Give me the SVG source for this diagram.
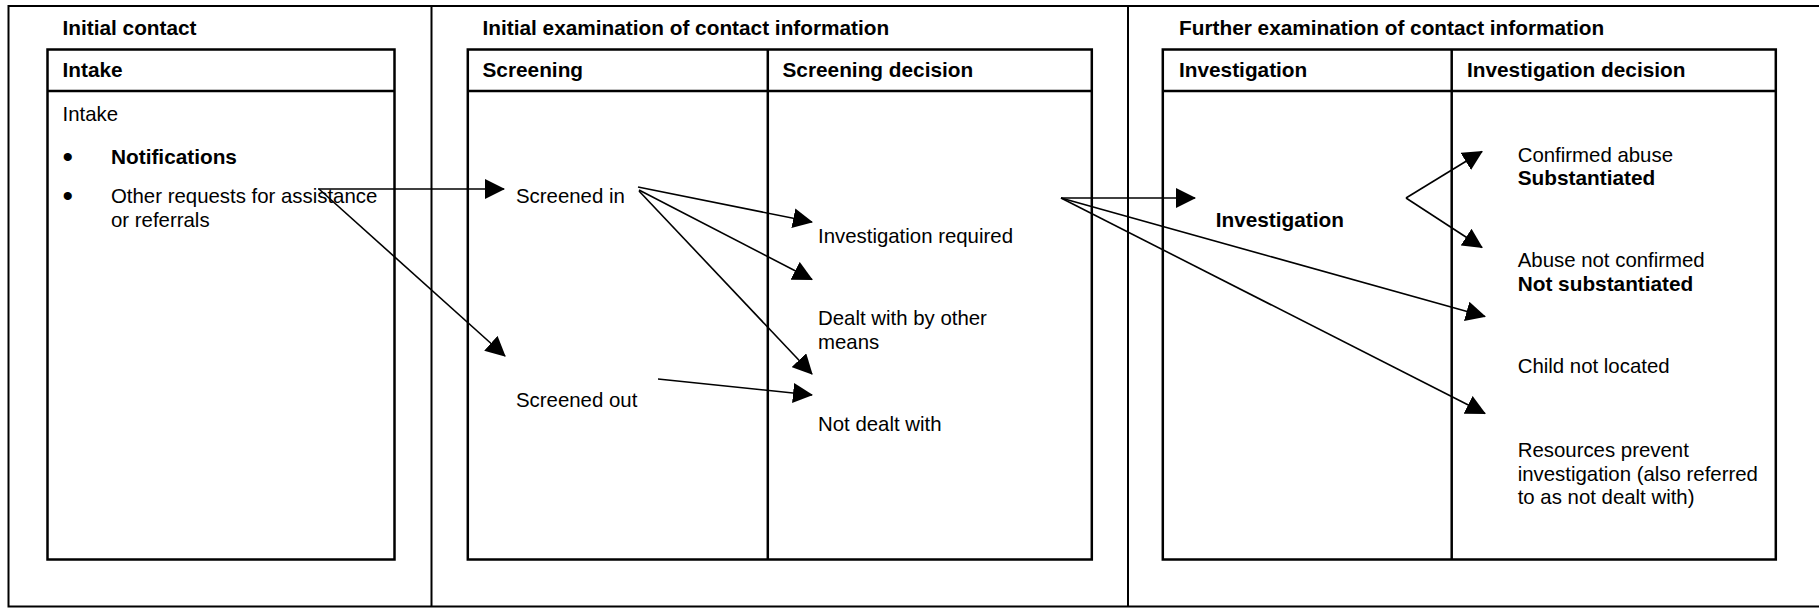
<svg xmlns="http://www.w3.org/2000/svg" width="1819" height="608" viewBox="0 0 1819 608">
<defs>
<style>
text { font-family: "Liberation Sans", Arial, sans-serif; font-size: 20.4px; fill: #000; }
.b { font-weight: bold; font-size: 20.8px; }
.bul { font-size: 30px; }
.frame { fill: none; stroke: #000; stroke-width: 2; }
.box { fill: none; stroke: #000; stroke-width: 2.5; }
.conn { fill: none; stroke: #000; stroke-width: 1.6; marker-end: url(#ah); }
</style>
<marker id="ah" markerUnits="userSpaceOnUse" viewBox="0 0 20 20" markerWidth="20" markerHeight="20" refX="19" refY="10" orient="auto">
<path d="M0,0 L20,10 L0,20 z" fill="#000"/>
</marker>
</defs>
<rect width="1819" height="608" fill="#fff"/>

<g id="frame">
<path class="frame" d="M1819,6 H8.5 V606.5 H1819"/>
<line class="frame" x1="431.5" y1="6" x2="431.5" y2="606.5"/>
<line class="frame" x1="1128" y1="6" x2="1128" y2="606.5"/>
</g>

<g id="section-initial-contact">
<text class="b" x="62.5" y="34.5">Initial contact</text>
</g>
<g id="section-initial-examination">
<text class="b" x="482.5" y="34.5">Initial examination of contact information</text>
</g>
<g id="section-further-examination">
<text class="b" x="1179" y="34.5">Further examination of contact information</text>
</g>

<g id="intake-box">
<rect class="box" x="47.5" y="49.5" width="347" height="510"/>
<line class="box" x1="47.5" y1="91" x2="394.5" y2="91"/>
<text class="b" x="62.5" y="77.3">Intake</text>
<text x="62.5" y="120.7">Intake</text>
<text class="bul" x="62.5" y="167">•</text>
<text class="b" x="111" y="164">Notifications</text>
<text class="bul" x="62.5" y="206">•</text>
<text x="111" y="203">Other requests for assistance</text>
<text x="111" y="227.3">or referrals</text>
</g>

<g id="screening-box">
<rect class="box" x="467.8" y="49.5" width="624" height="510"/>
<line class="box" x1="467.8" y1="91" x2="1091.8" y2="91"/>
<line class="box" x1="767.8" y1="49.5" x2="767.8" y2="559.5"/>
<text class="b" x="482.5" y="77.3">Screening</text>
<text class="b" x="782.5" y="77.3">Screening decision</text>
</g>

<g id="investigation-box">
<rect class="box" x="1162.8" y="49.5" width="613" height="510"/>
<line class="box" x1="1162.8" y1="91" x2="1775.8" y2="91"/>
<line class="box" x1="1451.7" y1="49.5" x2="1451.7" y2="559.5"/>
<text class="b" x="1179" y="77.3">Investigation</text>
<text class="b" x="1467" y="77.3">Investigation decision</text>
</g>

<g id="screened-in"><text x="516" y="202.7">Screened in</text></g>
<g id="screened-out"><text x="516" y="407.3">Screened out</text></g>
<g id="investigation-required"><text x="818" y="243.3">Investigation required</text></g>
<g id="dealt-with-other"><text x="818" y="325">Dealt with by other</text><text x="818" y="349.3">means</text></g>
<g id="not-dealt-with"><text x="818" y="430.7">Not dealt with</text></g>
<g id="investigation"><text class="b" x="1215.7" y="226.7">Investigation</text></g>
<g id="substantiated"><text x="1517.7" y="162.3">Confirmed abuse</text><text class="b" x="1517.7" y="185">Substantiated</text></g>
<g id="not-substantiated"><text x="1517.7" y="267.3">Abuse not confirmed</text><text class="b" x="1517.7" y="290.7">Not substantiated</text></g>
<g id="child-not-located"><text x="1517.7" y="373.3">Child not located</text></g>
<g id="resources-prevent"><text x="1517.7" y="456.7">Resources prevent</text><text x="1517.7" y="480.5">investigation (also referred</text><text x="1517.7" y="504">to as not dealt with)</text></g>

<g id="connectors">
<line class="conn" x1="318" y1="189" x2="504" y2="189"/>
<line class="conn" x1="319" y1="189" x2="505" y2="356"/>
<line class="conn" x1="638" y1="187" x2="812" y2="222"/>
<line class="conn" x1="639" y1="190" x2="812" y2="279.5"/>
<line class="conn" x1="639" y1="191" x2="812" y2="374"/>
<line class="conn" x1="658" y1="379" x2="812" y2="395"/>
<line class="conn" x1="1061" y1="198" x2="1195" y2="198"/>
<line class="conn" x1="1061" y1="198" x2="1485" y2="316.5"/>
<line class="conn" x1="1061" y1="198" x2="1485" y2="413.5"/>
<line class="conn" x1="1406" y1="198" x2="1482" y2="151.5"/>
<line class="conn" x1="1406" y1="198" x2="1482" y2="247.5"/>
</g>
</svg>
